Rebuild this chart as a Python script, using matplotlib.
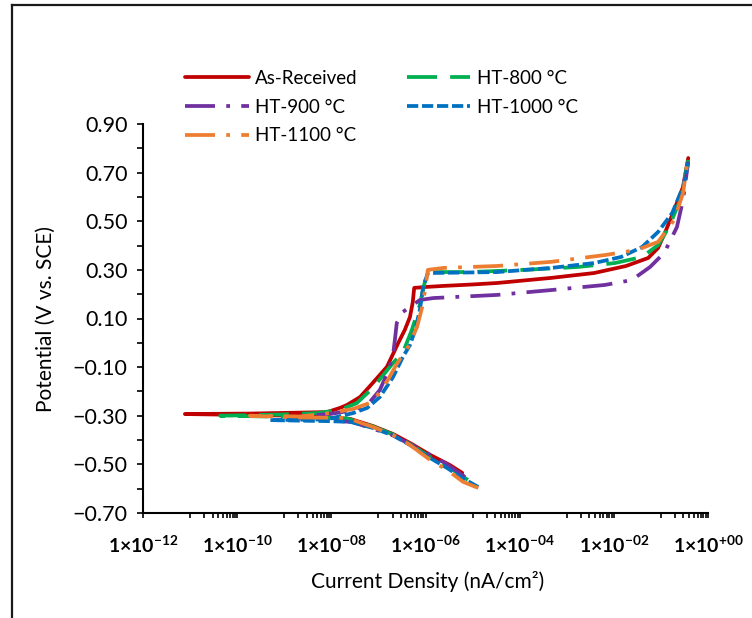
import numpy as np
import matplotlib
matplotlib.use("Agg")
import matplotlib.pyplot as plt
from matplotlib.lines import Line2D
from matplotlib.ticker import FixedLocator, FuncFormatter

plt.rcParams['font.family'] = ['Lato', 'DejaVu Sans']
plt.rcParams['mathtext.fontset'] = 'custom'
plt.rcParams['mathtext.rm'] = 'Lato'
plt.rcParams['mathtext.bf'] = 'Lato:bold'

# log10 of current density and potential (V vs SCE), cathodic end -> Ecorr -> anodic end
as_received_logi = [-5.22, -5.48, -5.90, -6.33, -6.69, -7.12, -7.60, -8.67, -11.11,
                    -9.73, -8.09, -7.82, -7.67, -7.39, -7.12, -6.82, -6.65, -6.58, -6.44,
                    -6.33, -6.27, -6.24, -5.97, -5.62, -5.00, -4.48, -3.33, -2.42, -1.74,
                    -1.27, -1.06, -0.89, -0.72, -0.53, -0.42]
as_received_v = [-0.535, -0.503, -0.461, -0.412, -0.375, -0.342, -0.313, -0.300, -0.293,
                 -0.291, -0.285, -0.268, -0.256, -0.223, -0.165, -0.099, -0.030, -0.001, 0.053,
                 0.106, 0.168, 0.226, 0.230, 0.234, 0.240, 0.246, 0.267, 0.287, 0.316,
                 0.349, 0.390, 0.464, 0.546, 0.641, 0.760]

ht800_logi = [-5.10, -5.48, -5.90, -6.33, -6.69, -7.12, -7.67, -8.67, -10.36,
              -9.09, -8.30, -7.82, -7.46, -7.12, -6.69, -6.48, -6.29, -6.12, -6.03, -5.95,
              -5.05, -3.91, -2.76, -1.98, -1.40, -1.06, -0.83, -0.59, -0.42]
ht800_v = [-0.564, -0.515, -0.470, -0.416, -0.377, -0.344, -0.311, -0.305, -0.300,
           -0.295, -0.289, -0.276, -0.248, -0.186, -0.083, -0.040, 0.053, 0.156, 0.238, 0.291,
           0.291, 0.300, 0.312, 0.328, 0.353, 0.402, 0.476, 0.588, 0.752]

ht900_logi = [-5.16, -5.59, -6.01, -6.33, -6.69, -7.24, -7.54, -8.67, -8.98,
              -8.03, -7.50, -7.18, -6.97, -6.80, -6.69, -6.65, -6.61, -6.48, -6.27, -6.12,
              -5.84, -4.48, -3.33, -2.19, -1.62, -1.23, -0.93, -0.66, -0.53, -0.42]
ht900_v = [-0.552, -0.494, -0.449, -0.418, -0.380, -0.346, -0.326, -0.310, -0.305,
           -0.293, -0.276, -0.243, -0.194, -0.120, -0.050, 0.012, 0.082, 0.127, 0.156, 0.176,
           0.184, 0.197, 0.217, 0.238, 0.258, 0.312, 0.370, 0.476, 0.588, 0.745]

ht1000_logi = [-4.88, -5.22, -5.54, -5.90, -6.33, -6.69, -7.12, -7.60, -8.09, -9.30,
               -8.09, -7.54, -7.24, -6.97, -6.69, -6.48, -6.33, -6.22, -6.12, -6.05, -5.95,
               -4.48, -3.33, -2.42, -1.85, -1.40, -1.06, -0.76, -0.53, -0.42]
ht1000_v = [-0.593, -0.556, -0.515, -0.474, -0.420, -0.381, -0.350, -0.325, -0.322, -0.318,
            -0.315, -0.289, -0.268, -0.223, -0.141, -0.058, -0.009, 0.053, 0.135, 0.230, 0.287,
            0.291, 0.308, 0.328, 0.353, 0.394, 0.456, 0.534, 0.641, 0.740]

ht1100_logi = [-4.88, -5.20, -5.54, -5.90, -6.33, -6.69, -7.12, -7.67, -8.67, -9.73,
               -8.67, -8.03, -7.54, -7.12, -6.80, -6.61, -6.37, -6.18, -6.07, -6.01, -5.95,
               -5.62, -4.48, -3.33, -2.19, -1.51, -1.06, -0.72, -0.53, -0.42]
ht1100_v = [-0.597, -0.572, -0.523, -0.482, -0.420, -0.379, -0.346, -0.309, -0.307, -0.300,
            -0.303, -0.289, -0.272, -0.243, -0.153, -0.087, -0.017, 0.065, 0.147, 0.217, 0.300,
            0.308, 0.316, 0.333, 0.361, 0.382, 0.415, 0.505, 0.616, 0.765]

x_ticks = [1e-12, 1e-10, 1e-8, 1e-6, 1e-4, 1e-2, 1e0]
x_tick_labels = ['-12', '-10', '-08', '-06', '-04', '-02', '+00']
y_ticks = [-0.70, -0.50, -0.30, -0.10, 0.10, 0.30, 0.50, 0.70, 0.90]

series = [
    ('As-Received', as_received_logi, as_received_v, '#C00000', '-'),
    ('HT-800 °C', ht800_logi, ht800_v, '#00B050', (0, (8, 3.5))),
    ('HT-900 °C', ht900_logi, ht900_v, '#7030A0', (0, (8, 3, 1, 3))),
    ('HT-1000 °C', ht1000_logi, ht1000_v, '#0070C0', (0, (3, 1))),
    ('HT-1100 °C', ht1100_logi, ht1100_v, '#ED7D31', (0, (8, 3, 1, 3))),
]

fig = plt.figure(figsize=(7.52, 6.18), dpi=100)
ax = fig.add_axes([143 / 752, 1 - 513 / 618, 565 / 752, 389 / 618])

handles = {}
for name, logi, v, color, ls in series:
    line, = ax.plot(10 ** np.array(logi), v, color=color, linestyle=ls, lw=2.7,
                    solid_capstyle='round', solid_joinstyle='round')
    handles[name] = line

ax.set_xscale('log')
ax.set_xlim(1e-12, 1e0)
ax.set_ylim(-0.70, 0.90)

ax.xaxis.set_major_locator(FixedLocator(x_ticks))
ax.xaxis.set_major_formatter(FuncFormatter(
    lambda val, pos: r'$\mathbf{1{\times}10^{%s}}$' % x_tick_labels[pos] if pos is not None and pos < len(x_tick_labels) else ''))
minor = [m * 10.0 ** d for d in range(-11, 0, 2) for m in range(1, 10)]
ax.xaxis.set_minor_locator(FixedLocator(minor))
ax.xaxis.set_minor_formatter(FuncFormatter(lambda val, pos: ''))

ax.yaxis.set_major_locator(FixedLocator(y_ticks))
ax.yaxis.set_minor_locator(FixedLocator(np.arange(-0.6, 0.9, 0.2)))
ax.yaxis.set_major_formatter(FuncFormatter(lambda val, pos: f'{val:.2f}'.replace('-', '\u2212')))

ax.tick_params(axis='x', which='both', direction='out', length=3.5, width=1.2, pad=12,
               labelsize=14, colors='#000000')
ax.tick_params(axis='y', which='both', direction='out', length=4, width=1.2, pad=7,
               labelsize=15.5)
for s in ['top', 'right']:
    ax.spines[s].set_visible(False)
for s in ['left', 'bottom']:
    ax.spines[s].set_linewidth(1.5)

ax.set_ylabel('Potential (V vs. SCE)', fontsize=15)
ax.yaxis.set_label_coords(-0.155, 0.5)
ax.set_xlabel('Current Density (nA/cm²)', fontsize=15)
ax.xaxis.set_label_coords(0.504, -0.148)

order = ['As-Received', 'HT-900 °C', 'HT-1100 °C', 'HT-800 °C', 'HT-1000 °C']
fig.legend([handles[k] for k in order], order, loc='upper left',
           bbox_to_anchor=(185 / 752, 1 - 70 / 618), ncol=2, frameon=False,
           fontsize=13.5, handlelength=3.4, handletextpad=0.35, columnspacing=2.6,
           labelspacing=0.62, borderpad=0, borderaxespad=0)

# outer frame (partly cut by the image edge)
fig.add_artist(Line2D([12 / 752, 12 / 752], [0, 1 - 5 / 618], transform=fig.transFigure,
                      color='#1a1a1a', lw=1.6))
fig.add_artist(Line2D([12 / 752, 1], [1 - 5 / 618, 1 - 5 / 618], transform=fig.transFigure,
                      color='#1a1a1a', lw=1.6))

fig.savefig('out.png', dpi=100)
